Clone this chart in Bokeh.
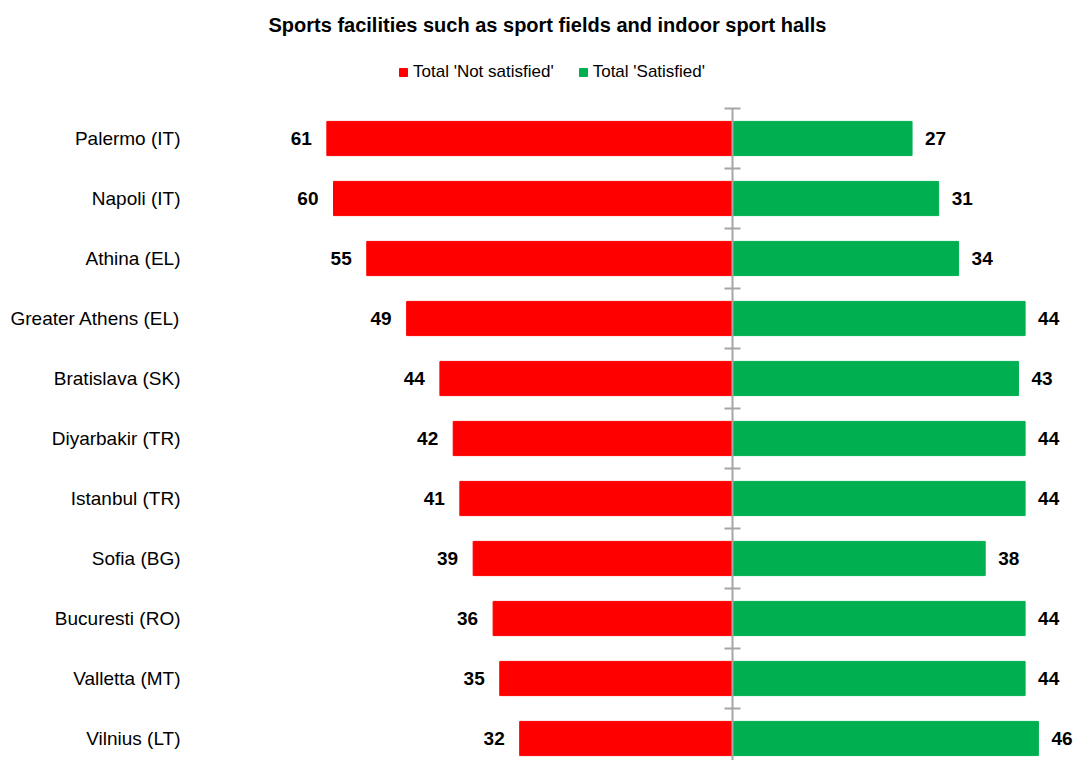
from bokeh.plotting import figure
from bokeh.models import Range1d, FixedTicker, Legend, LegendItem, ColumnDataSource
from bokeh.core.properties import value
from bokeh.embed import file_html
from bokeh.resources import INLINE

# ---- data ----
cities = ["Palermo (IT)", "Napoli (IT)", "Athina (EL)", "Greater Athens (EL)",
          "Bratislava (SK)", "Diyarbakir (TR)", "Istanbul (TR)", "Sofia (BG)",
          "Bucuresti (RO)", "Valletta (MT)", "Vilnius (LT)"]
not_satisfied = [61, 60, 55, 49, 44, 42, 41, 39, 36, 35, 32]
satisfied = [27, 31, 34, 44, 43, 44, 44, 38, 44, 44, 46]
series_names = ["Total 'Not satisfied'", "Total 'Satisfied'"]
title_text = "Sports facilities such  as sport fields and indoor sport halls"

# ---- styles ----
RED = "#FF0000"
GREEN = "#00B050"
GREY = "#A6A6A6"
FONT = "Liberation Sans"
PX_PER_UNIT = 6.65

idx = list(range(len(cities)))
src = ColumnDataSource(dict(
    y=idx,
    ns_left=[-v for v in not_satisfied],
    ns_text=[str(v) for v in not_satisfied],
    s_right=satisfied,
    s_text=[str(v) for v in satisfied],
    zero=[0] * len(cities),
))

W, H = 1075, 760
frame_left = 190
frame_w = W - frame_left
frame_top = 40
zero_px = 542
p = figure(width=W, height=H, output_backend="svg", toolbar_location=None,
           x_range=Range1d(-zero_px / PX_PER_UNIT, (frame_w - zero_px) / PX_PER_UNIT),
           y_range=Range1d(-0.5 + (H - 108) / 60, -0.5 - (108 - frame_top) / 60),
           x_axis_location=None, y_axis_location="left",
           min_border_left=frame_left, min_border_right=0,
           min_border_top=frame_top, min_border_bottom=0,
           title=title_text)
p.outline_line_color = None
p.grid.visible = False
p.background_fill_color = "white"

p.title.align = "left"
p.title.offset = 78
p.title.text_font = FONT
p.title.text_font_size = "20px"
p.title.text_font_style = "bold"
p.title.text_color = "black"

yax = p.yaxis[0]
yax.ticker = FixedTicker(ticks=idx)
yax.major_label_overrides = {i: c for i, c in zip(idx, cities)}
yax.axis_line_color = None
yax.major_tick_line_color = None
yax.minor_tick_line_color = None
yax.major_tick_out = 0
yax.major_tick_in = 0
yax.major_label_standoff = 10
yax.major_label_text_font = FONT
yax.major_label_text_font_size = "19px"
yax.major_label_text_color = "black"

r_ns = p.hbar(y="y", left="ns_left", right="zero", height=0.57, source=src,
              fill_color=RED, line_color=RED)
r_s = p.hbar(y="y", left="zero", right="s_right", height=0.57, source=src,
             fill_color=GREEN, line_color=GREEN)

# central category axis with cross ticks at category boundaries
bounds = [i - 0.5 for i in range(len(cities) + 1)]
p.segment(x0=[0], y0=[bounds[0]], x1=[0], y1=[bounds[-1]], line_color=GREY, line_width=2)
p.scatter(x=[0] * len(bounds), y=bounds, marker="dash", size=16, line_color=GREY, line_width=2)

p.text(x="ns_left", y="y", text="ns_text", source=src, x_offset=-15,
       text_align="right", text_baseline="middle", text_font=value(FONT),
       text_font_size="19px", text_font_style="bold", text_color="black")
p.text(x="s_right", y="y", text="s_text", source=src, x_offset=13,
       text_align="left", text_baseline="middle", text_font=value(FONT),
       text_font_size="19px", text_font_style="bold", text_color="black")

legend = Legend(items=[LegendItem(label=series_names[0], renderers=[r_ns]),
                       LegendItem(label=series_names[1], renderers=[r_s])],
                orientation="horizontal", location=(208, 678),
                glyph_width=10, glyph_height=10, label_standoff=5, spacing=24,
                padding=0, margin=0, border_line_color=None,
                background_fill_alpha=0,
                label_text_font=FONT, label_text_font_size="17px",
                label_text_color="black", label_height=20)
p.add_layout(legend, "center")

open("out.html", "w").write(file_html(p, INLINE))
